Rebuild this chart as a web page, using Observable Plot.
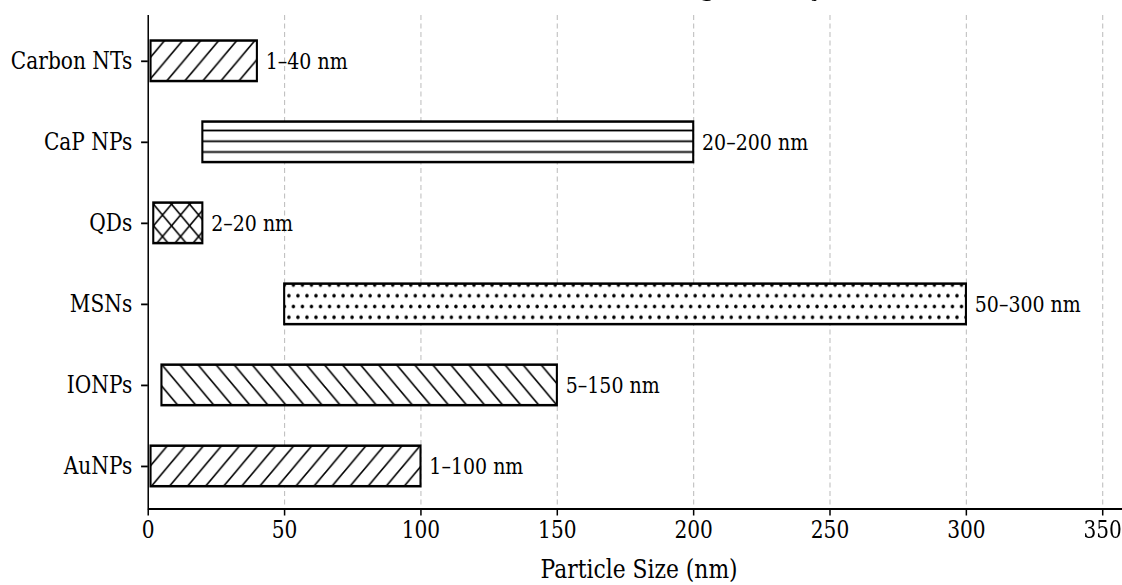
<!DOCTYPE html>
<html><head><meta charset="utf-8">
<script src="https://cdn.jsdelivr.net/npm/d3@7"></script>
<script src="https://cdn.jsdelivr.net/npm/@observablehq/plot@0.6"></script>
<style>
html,body{margin:0;padding:0;background:#fff;overflow:hidden}
#wrap{position:relative;width:1336px;height:585px;transform:scaleX(0.83982);transform-origin:0 0;overflow:visible}
#title{position:absolute;left:176px;width:1169px;top:-28px;line-height:26px;text-align:center;font:bold 26px "DejaVu Serif",serif;color:#000;white-space:nowrap}
</style></head><body><div id="wrap"><div id="title">Nanocarriers in Drug Delivery</div></div>
<script>
// Data
const names = ["AuNPs", "IONPs", "MSNs", "QDs", "CaP NPs", "Carbon NTs"];
const minSize = [1, 5, 50, 2, 20, 1];
const maxSize = [100, 150, 300, 20, 200, 40];
const xTicks = [0, 50, 100, 150, 200, 250, 300, 350];
const xLabel = "Particle Size (nm)";

// Styles (hatch per category)
const hatchOf = {"AuNPs": "fwd", "IONPs": "bwd", "MSNs": "dots", "QDs": "cross", "CaP NPs": "horiz", "Carbon NTs": "fwd"};

const rows = names.map((name, i) => ({name, i, min: minSize[i], max: maxSize[i]}));

const svg = Plot.plot({
  width: 1336, height: 585,
  marginLeft: 176, marginRight: -9, marginTop: 15, marginBottom: 76.5,
  style: {fontFamily: '"DejaVu Serif", serif', fontSize: "22px", color: "black", background: "white", overflow: "visible"},
  x: {domain: [0, 360]},
  y: {domain: [-0.525, 5.565]},
  color: {type: "identity"},
  marks: [
    Plot.gridX(xTicks.filter(t => t > 0), {stroke: "#b0b0b0", strokeOpacity: 0.8, strokeWidth: 1.3, strokeDasharray: "5,3.5"}),
    Plot.rect(rows, {x1: "min", x2: "max", y1: d => d.i - 0.25, y2: d => d.i + 0.25,
      fill: d => `url(#h-${hatchOf[d.name]})`, stroke: "black", strokeWidth: 2.5}),
    Plot.text(rows, {x: "max", y: "i", text: d => `${d.min}–${d.max} nm`, textAnchor: "start", dx: 10, fontSize: 22.6, fill: "black"}),
    Plot.axisX(xTicks, {tickSize: 7, tickPadding: 5, strokeWidth: 1.8, fontSize: 24, label: null}),
    Plot.axisY(d3.range(names.length), {tickSize: 8, tickPadding: 11, strokeWidth: 1.8, fontSize: 24, tickFormat: i => names[i], label: null}),
    Plot.ruleX([0], {strokeWidth: 1.8}),
    Plot.ruleY([-0.525], {strokeWidth: 1.8}),
    Plot.text([xLabel], {frameAnchor: "bottom", dy: 61, fontSize: 26, lineAnchor: "middle", fill: "black"})
  ]
});

// Hatch patterns
const s = 21.5, hw = 1.8;
const defs = d3.select(svg).insert("defs", ":first-child");
function pat(id, w, h, x, y, draw) {
  const p = defs.append("pattern").attr("id", id).attr("patternUnits", "userSpaceOnUse")
    .attr("width", w).attr("height", h).attr("x", x).attr("y", y);
  p.append("rect").attr("width", w).attr("height", h).attr("fill", "white");
  draw(p);
}
const fwd = `M0,${s} L${s},0 M${-s/2},${s/2} L${s/2},${-s/2} M${s/2},${1.5*s} L${1.5*s},${s/2}`;
const bwd = `M0,0 L${s},${s} M${s/2},${-s/2} L${1.5*s},${s/2} M${-s/2},${s/2} L${s/2},${1.5*s}`;
pat("h-fwd", s, s, 0, 0, p => p.append("path").attr("d", fwd).attr("stroke", "black").attr("stroke-width", hw));
pat("h-bwd", s, s, 0, 0, p => p.append("path").attr("d", bwd).attr("stroke", "black").attr("stroke-width", hw));
pat("h-cross", s, s, 0, 0, p => p.append("path").attr("d", fwd + bwd).attr("stroke", "black").attr("stroke-width", hw));
pat("h-horiz", s, s/2, 0, 6.875, p => p.append("path").attr("d", `M0,${s/4} H${s}`).attr("stroke", "black").attr("stroke-width", hw));
pat("h-dots", s/2, s, 0, 0.125, p => {
  const w = s/2, h = s;
  [[w/2, h/4], [0, 3*h/4], [w, 3*h/4]].forEach(([cx, cy]) =>
    p.append("circle").attr("cx", cx).attr("cy", cy).attr("r", 2).attr("fill", "black"));
});

document.getElementById("wrap").appendChild(svg);
</script>
</body></html>
